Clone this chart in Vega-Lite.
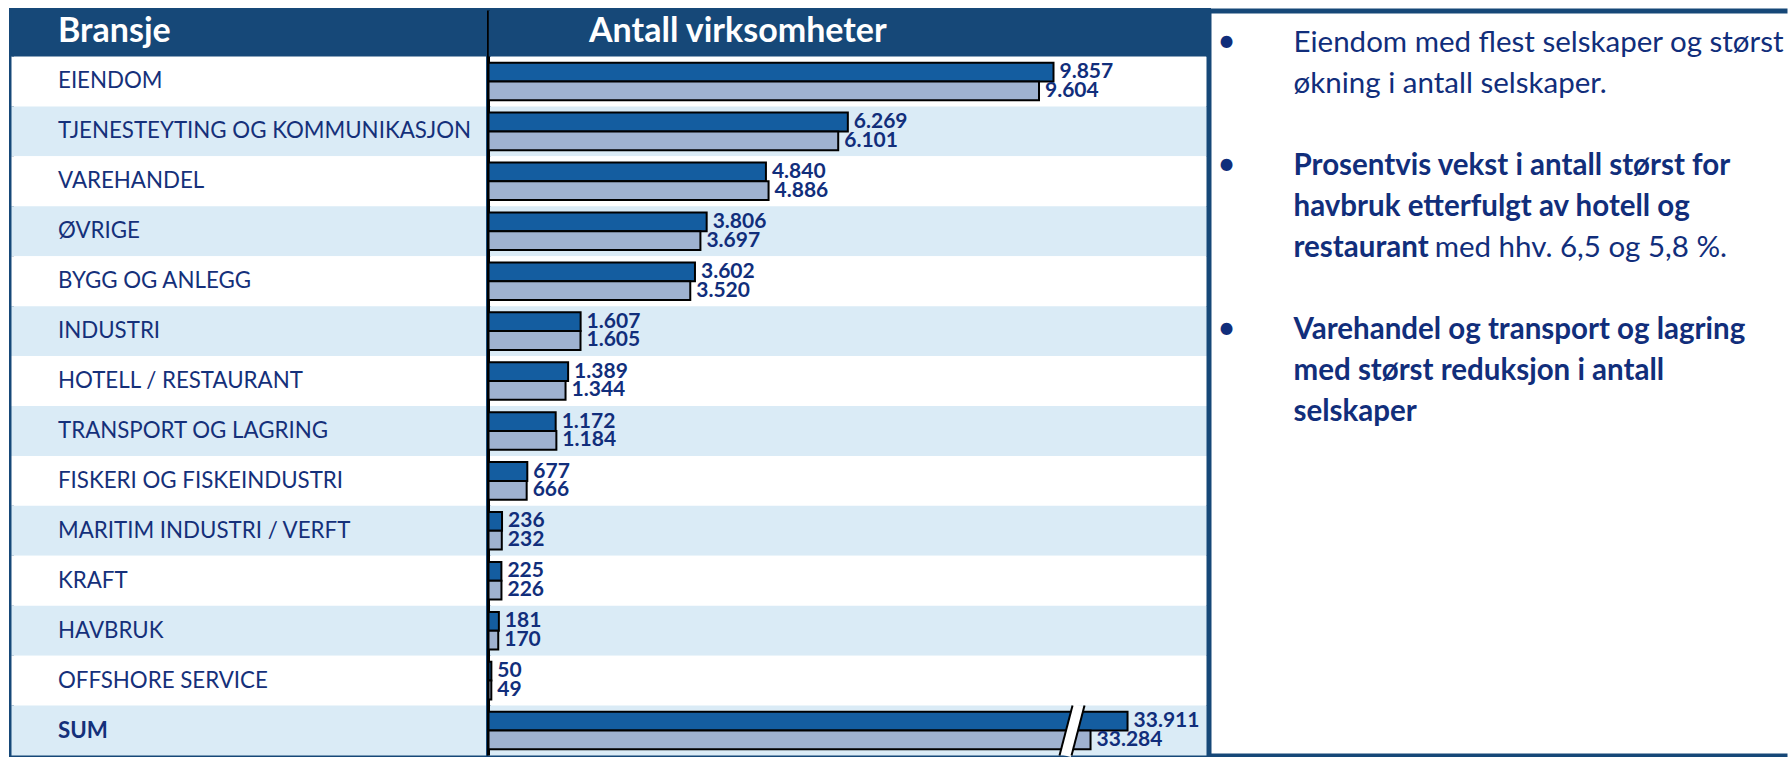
{
  "$schema": "https://vega.github.io/schema/vega-lite/v6.json",
  "background": "white",
  "padding": {"left": 8.5, "top": 6.5, "right": 0, "bottom": 0},
  "autosize": {"type": "pad"},
  "spacing": 0,
  "bounds": "flush",
  "config": {
    "locale": {"number": {"decimal": ",", "thousands": ".", "grouping": [3], "currency": ["", " kr"]}},
    "view": {"stroke": "#164878", "strokeWidth": 5},
    "font": "Lato",
    "scale": {"bandPaddingInner": 0, "bandPaddingOuter": 0}
  },
  "datasets": {
    "rader": [
      {"bransje": "EIENDOM", "rank": 1, "siste": 9857, "forrige": 9604},
      {"bransje": "TJENESTEYTING OG KOMMUNIKASJON", "rank": 2, "siste": 6269, "forrige": 6101},
      {"bransje": "VAREHANDEL", "rank": 3, "siste": 4840, "forrige": 4886},
      {"bransje": "ØVRIGE", "rank": 4, "siste": 3806, "forrige": 3697},
      {"bransje": "BYGG OG ANLEGG", "rank": 5, "siste": 3602, "forrige": 3520},
      {"bransje": "INDUSTRI", "rank": 6, "siste": 1607, "forrige": 1605},
      {"bransje": "HOTELL / RESTAURANT", "rank": 7, "siste": 1389, "forrige": 1344},
      {"bransje": "TRANSPORT OG LAGRING", "rank": 8, "siste": 1172, "forrige": 1184},
      {"bransje": "FISKERI OG FISKEINDUSTRI", "rank": 9, "siste": 677, "forrige": 666},
      {"bransje": "MARITIM INDUSTRI / VERFT", "rank": 10, "siste": 236, "forrige": 232},
      {"bransje": "KRAFT", "rank": 11, "siste": 225, "forrige": 226},
      {"bransje": "HAVBRUK", "rank": 12, "siste": 181, "forrige": 170},
      {"bransje": "OFFSHORE SERVICE", "rank": 13, "siste": 50, "forrige": 49},
      {"bransje": "SUM", "rank": 14, "siste": 33911, "forrige": 33284}
    ],
    "topp": [
      {"bransje": "Bransje", "tittel": "Antall virksomheter"}
    ],
    "punkter": [
      {"linje": 0}, {"linje": 3}, {"linje": 7}
    ],
    "linjer": [
      {"linje": 0, "tekst": "Eiendom med flest selskaper og størst", "vekt": "normal", "del": 1},
      {"linje": 1, "tekst": "økning i antall selskaper.", "vekt": "normal", "del": 1},
      {"linje": 3, "tekst": "Prosentvis vekst i antall størst for", "vekt": "bold", "del": 1},
      {"linje": 4, "tekst": "havbruk etterfulgt av hotell og", "vekt": "bold", "del": 1},
      {"linje": 5, "tekst": "restaurant", "vekt": "bold", "del": 1},
      {"linje": 5, "tekst": "med hhv. 6,5 og 5,8 %.", "vekt": "normal", "del": 2},
      {"linje": 7, "tekst": "Varehandel og transport og lagring", "vekt": "bold", "del": 1},
      {"linje": 8, "tekst": "med størst reduksjon i antall", "vekt": "bold", "del": 1},
      {"linje": 9, "tekst": "selskaper", "vekt": "bold", "del": 1}
    ]
  },
  "hconcat": [
    {
      "width": 477,
      "height": 745,
      "layer": [
        {
          "data": {"name": "rader"},
          "mark": {"type": "rect"},
          "encoding": {
            "y": {
              "field": "bransje", "type": "nominal",
              "scale": {"domain": ["Bransje", "EIENDOM", "TJENESTEYTING OG KOMMUNIKASJON", "VAREHANDEL", "ØVRIGE", "BYGG OG ANLEGG", "INDUSTRI", "HOTELL / RESTAURANT", "TRANSPORT OG LAGRING", "FISKERI OG FISKEINDUSTRI", "MARITIM INDUSTRI / VERFT", "KRAFT", "HAVBRUK", "OFFSHORE SERVICE", "SUM"], "range": [-3.93, 745]},
              "axis": {
                "orient": "left", "offset": -46, "title": null, "ticks": false, "tickSize": 0,
                "domain": false, "grid": false, "labelPadding": 0, "labelAlign": "left",
                "labelBaseline": "middle", "labelFont": "Lato", "labelLimit": 0, "labelOverlap": false,
                "labelFontSize": {"condition": {"test": "datum.value == 'Bransje'", "value": 34}, "value": 22.3},
                "labelFontWeight": {"condition": {"test": "datum.value == 'Bransje' || datum.value == 'SUM'", "value": "bold"}, "value": "normal"},
                "labelColor": {"condition": {"test": "datum.value == 'Bransje'", "value": "white"}, "value": "#15307A"},
                "zindex": 1
              }
            },
            "color": {"condition": {"test": "datum.rank % 2 == 0", "value": "#DAEBF6"}, "value": "white"}
          }
        },
        {
          "data": {"name": "topp"},
          "mark": {"type": "rect", "color": "#164878", "clip": true},
          "encoding": {
            "y": {"field": "bransje", "type": "nominal"}
          }
        }
      ]
    },
    {
      "width": 720,
      "height": 745,
      "resolve": {"scale": {"x": "independent"}},
      "layer": [
        {
          "data": {"name": "rader"},
          "mark": {"type": "rect"},
          "encoding": {
            "y": {"field": "bransje", "type": "nominal", "axis": null, "scale": {"domain": ["Bransje", "EIENDOM", "TJENESTEYTING OG KOMMUNIKASJON", "VAREHANDEL", "ØVRIGE", "BYGG OG ANLEGG", "INDUSTRI", "HOTELL / RESTAURANT", "TRANSPORT OG LAGRING", "FISKERI OG FISKEINDUSTRI", "MARITIM INDUSTRI / VERFT", "KRAFT", "HAVBRUK", "OFFSHORE SERVICE", "SUM"], "range": [-3.93, 745]}},
            "color": {"condition": {"test": "datum.rank % 2 == 0", "value": "#DAEBF6"}, "value": "white"}
          }
        },
        {
          "layer": [
            {
              "data": {"name": "topp"},
              "mark": {"type": "rule", "color": "black", "strokeWidth": 3},
              "encoding": {
                "x": {"datum": 0, "type": "quantitative", "scale": {"domain": [0, 12561], "nice": false, "zero": true}, "axis": null}
              }
            },
            {
              "data": {"name": "rader"},
              "transform": [
                {"filter": "datum.bransje != 'SUM'"},
                {"fold": ["siste", "forrige"], "as": ["periode", "antall"]}
              ],
              "mark": {"type": "bar", "stroke": "black", "strokeWidth": 2},
              "encoding": {
                "y": {"field": "bransje", "type": "nominal"},
                "yOffset": {"field": "periode", "type": "nominal", "scale": {"domain": ["siste", "forrige"], "paddingInner": 0, "paddingOuter": 0.33}},
                "x": {"field": "antall", "type": "quantitative", "scale": {"domain": [0, 12561], "nice": false, "zero": true}, "axis": null},
                "color": {"field": "periode", "type": "nominal", "scale": {"domain": ["siste", "forrige"], "range": ["#145DA0", "#9FB2D0"]}, "legend": null}
              }
            },
            {
              "data": {"name": "rader"},
              "transform": [
                {"filter": "datum.bransje != 'SUM'"},
                {"fold": ["siste", "forrige"], "as": ["periode", "antall"]}
              ],
              "mark": {"type": "text", "align": "left", "baseline": "middle", "dx": 6, "font": "Lato", "fontWeight": "bold", "fontSize": 21, "color": "#112E7B"},
              "encoding": {
                "y": {"field": "bransje", "type": "nominal"},
                "yOffset": {"field": "periode", "type": "nominal", "scale": {"domain": ["siste", "forrige"], "paddingInner": 0, "paddingOuter": 0.33}},
                "x": {"field": "antall", "type": "quantitative", "scale": {"domain": [0, 12561], "nice": false, "zero": true}, "axis": null},
                "text": {"field": "antall", "type": "quantitative", "format": ",d"}
              }
            }
          ]
        },
        {
          "data": {"name": "topp"},
          "mark": {"type": "rect", "color": "#164878", "clip": true},
          "encoding": {
            "y": {"field": "bransje", "type": "nominal"}
          }
        },
        {
          "data": {"name": "topp"},
          "mark": {"type": "text", "align": "center", "baseline": "middle", "font": "Lato", "fontWeight": "bold", "fontSize": 34, "color": "white"},
          "encoding": {
            "y": {"field": "bransje", "type": "nominal"},
            "x": {"datum": 4350, "type": "quantitative", "scale": {"domain": [0, 12561], "nice": false, "zero": true}, "axis": null},
            "text": {"field": "tittel"}
          }
        },
        {
          "layer": [
            {
              "data": {"name": "rader"},
              "transform": [
                {"filter": "datum.bransje == 'SUM'"},
                {"fold": ["siste", "forrige"], "as": ["periode", "antall"]}
              ],
              "mark": {"type": "bar", "stroke": "black", "strokeWidth": 2},
              "encoding": {
                "y": {"field": "bransje", "type": "nominal"},
                "yOffset": {"field": "periode", "type": "nominal", "scale": {"domain": ["siste", "forrige"], "paddingInner": 0, "paddingOuter": 0.33}},
                "x": {"field": "antall", "type": "quantitative", "scale": {"domain": [23082, 35283], "nice": false, "zero": false}, "axis": null},
                "x2": {"datum": 23082},
                "color": {"field": "periode", "type": "nominal", "scale": {"domain": ["siste", "forrige"], "range": ["#145DA0", "#9FB2D0"]}, "legend": null}
              }
            },
            {
              "data": {"name": "rader"},
              "transform": [
                {"filter": "datum.bransje == 'SUM'"},
                {"fold": ["siste", "forrige"], "as": ["periode", "antall"]}
              ],
              "mark": {"type": "text", "align": "left", "baseline": "middle", "dx": 6, "font": "Lato", "fontWeight": "bold", "fontSize": 21, "color": "#112E7B"},
              "encoding": {
                "y": {"field": "bransje", "type": "nominal"},
                "yOffset": {"field": "periode", "type": "nominal", "scale": {"domain": ["siste", "forrige"], "paddingInner": 0, "paddingOuter": 0.33}},
                "x": {"field": "antall", "type": "quantitative", "scale": {"domain": [23082, 35283], "nice": false, "zero": false}, "axis": null},
                "text": {"field": "antall", "type": "quantitative", "format": ",d"}
              }
            },
            {
              "data": {"name": "rader"},
              "transform": [{"filter": "datum.bransje == 'SUM'"}],
              "mark": {"type": "rule", "color": "white", "strokeWidth": 11, "yOffset": -25, "y2Offset": 25},
              "encoding": {
                "y": {"field": "bransje", "type": "nominal"},
                "y2": {"field": "bransje"},
                "x": {"datum": 33080, "type": "quantitative", "scale": {"domain": [23082, 35283], "nice": false, "zero": false}, "axis": null},
                "x2": {"datum": 32860}
              }
            },
            {
              "data": {"name": "rader"},
              "transform": [{"filter": "datum.bransje == 'SUM'"}],
              "mark": {"type": "rule", "color": "black", "strokeWidth": 2, "yOffset": -25, "y2Offset": 25},
              "encoding": {
                "y": {"field": "bransje", "type": "nominal"},
                "y2": {"field": "bransje"},
                "x": {"datum": 32979, "type": "quantitative", "scale": {"domain": [23082, 35283], "nice": false, "zero": false}, "axis": null},
                "x2": {"datum": 32758}
              }
            },
            {
              "data": {"name": "rader"},
              "transform": [{"filter": "datum.bransje == 'SUM'"}],
              "mark": {"type": "rule", "color": "black", "strokeWidth": 2, "yOffset": -25, "y2Offset": 25},
              "encoding": {
                "y": {"field": "bransje", "type": "nominal"},
                "y2": {"field": "bransje"},
                "x": {"datum": 33182, "type": "quantitative", "scale": {"domain": [23082, 35283], "nice": false, "zero": false}, "axis": null},
                "x2": {"datum": 32962}
              }
            }
          ]
        }
      ]
    },
    {
      "width": 578.5,
      "height": 745,
      "view": {"stroke": null},
      "resolve": {"axis": {"x": "independent"}},
      "layer": [
        {
          "data": {"name": "punkter"},
          "mark": {"type": "text", "text": "•", "font": "Lato", "fontSize": 32, "align": "center", "baseline": "alphabetic", "color": "#112E7B"},
          "encoding": {
            "x": {"datum": 3.1, "type": "quantitative", "scale": {"domain": [0, 100], "nice": false, "zero": true},
                  "axis": {"orient": "top", "domain": true, "domainColor": "#164878", "domainWidth": 5, "labels": false, "ticks": false, "grid": false, "title": null}},
            "y": {"field": "linje", "type": "quantitative", "scale": {"domain": [-1, 17.17], "reverse": true, "nice": false, "zero": false},
                  "axis": {"orient": "left", "domain": true, "domainColor": "#164878", "domainWidth": 5, "labels": false, "ticks": false, "grid": false, "title": null}}
          }
        },
        {
          "data": {"name": "linjer"},
          "transform": [{"filter": "datum.vekt == 'normal' && datum.del == 1"}],
          "mark": {"type": "text", "font": "Lato", "fontSize": 29.5, "align": "left", "baseline": "alphabetic", "color": "#112E7B"},
          "encoding": {
            "x": {"datum": 14.7, "type": "quantitative",
                  "axis": {"orient": "bottom", "domain": true, "domainColor": "#164878", "domainWidth": 5, "labels": false, "ticks": false, "grid": false, "title": null}},
            "y": {"field": "linje", "type": "quantitative"},
            "text": {"field": "tekst"}
          }
        },
        {
          "data": {"name": "linjer"},
          "transform": [{"filter": "datum.vekt == 'bold'"}],
          "mark": {"type": "text", "font": "Lato", "fontSize": 29.5, "fontWeight": "bold", "align": "left", "baseline": "alphabetic", "color": "#112E7B"},
          "encoding": {
            "x": {"datum": 14.7, "type": "quantitative", "axis": null},
            "y": {"field": "linje", "type": "quantitative"},
            "text": {"field": "tekst"}
          }
        },
        {
          "data": {"name": "linjer"},
          "transform": [{"filter": "datum.del == 2"}],
          "mark": {"type": "text", "font": "Lato", "fontSize": 29.5, "align": "left", "baseline": "alphabetic", "color": "#112E7B"},
          "encoding": {
            "x": {"datum": 39.1, "type": "quantitative", "axis": null},
            "y": {"field": "linje", "type": "quantitative"},
            "text": {"field": "tekst"}
          }
        }
      ]
    }
  ]
}
